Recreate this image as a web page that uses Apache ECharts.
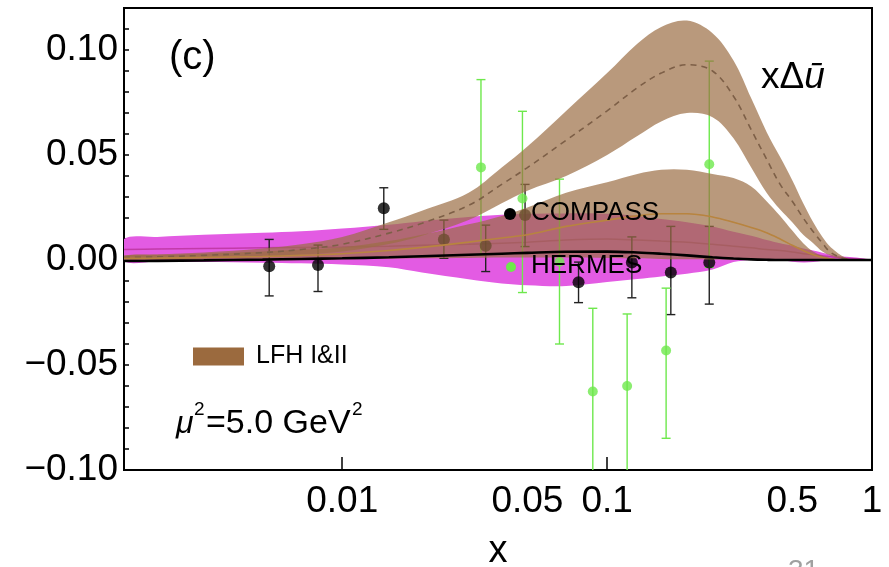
<!DOCTYPE html>
<html><head><meta charset="utf-8">
<script src="https://cdn.jsdelivr.net/npm/echarts@6/dist/echarts.min.js"></script>
<style>html,body{margin:0;padding:0;background:#fff}#c{width:889px;height:567px}</style>
</head><body><div id="c"></div>
<script>
// ---------- data ----------
const bandX   = [0.0015,0.002,0.003,0.005,0.007,0.01,0.015,0.02,0.03,0.04,0.05,0.07,0.1,0.13,0.16,0.2,0.25,0.3,0.35,0.4,0.45,0.5,0.55,0.6,0.65,0.7,0.8,0.9,1.0];
// LFH I band (upper, dashed centre)
const lfh1Up  = [0.0022,0.0027,0.0036,0.0055,0.0075,0.011,0.018,0.0235,0.032,0.044,0.054,0.071,0.089,0.103,0.111,0.114,0.108,0.095,0.077,0.061,0.049,0.038,0.027,0.018,0.011,0.006,0.001,0.0002,0];
const lfh1Mid = [0.0012,0.0015,0.0022,0.0035,0.005,0.0075,0.0128,0.0175,0.026,0.036,0.044,0.057,0.071,0.082,0.089,0.093,0.090,0.078,0.062,0.048,0.036,0.028,0.020,0.0135,0.008,0.0035,0.0004,0,0];
const lfh1Lo  = [0.0003,0.0004,0.0008,0.0015,0.0025,0.004,0.0076,0.0115,0.019,0.027,0.033,0.040,0.050,0.059,0.066,0.070,0.068,0.058,0.044,0.032,0.024,0.018,0.012,0.008,0.004,0.002,0,0,0];
// LFH II band (lower, solid centre)
const lfh2Up  = [0.002,0.0024,0.003,0.004,0.005,0.006,0.009,0.012,0.017,0.021,0.025,0.032,0.037,0.041,0.043,0.043,0.041,0.039,0.035,0.028,0.021,0.014,0.008,0.004,0.002,0.001,0,0,0];
const lfh2Mid = [0.0008,0.0009,0.0012,0.0017,0.0022,0.003,0.0045,0.006,0.0085,0.0105,0.012,0.016,0.019,0.021,0.022,0.022,0.0205,0.018,0.0155,0.013,0.010,0.007,0.0045,0.0025,0.0012,0.0005,0,0,0];
const lfh2Lo  = [-0.0004,-0.0004,-0.0003,-0.0002,0,0.0003,0.0006,0.0008,0.001,0.0012,0.0012,0.0012,0.001,0.0008,0.0005,0.0003,0.0002,0.0001,0,0,0,0,0,0,0,0,0,0,0];
// magenta band
const magUp   = [0.0100,0.0110,0.0120,0.0130,0.0137,0.0150,0.0168,0.0185,0.0205,0.0215,0.0220,0.0222,0.0220,0.0210,0.0195,0.0180,0.0160,0.0135,0.0115,0.0095,0.0080,0.0068,0.0055,0.0045,0.0035,0.0025,0.0015,0.0010,0];
const magMid  = [0.0050,0.0052,0.0055,0.0058,0.0060,0.0062,0.0066,0.0070,0.0075,0.0080,0.0085,0.0095,0.0100,0.0095,0.0090,0.0085,0.0075,0.0065,0.0058,0.0050,0.0045,0.0038,0.0030,0.0025,0.0020,0.0015,0.0008,0.0005,0];
const magLo   = [-0.0005,-0.0007,-0.0010,-0.0013,-0.0016,-0.0022,-0.0035,-0.0060,-0.0092,-0.0112,-0.0120,-0.0124,-0.0105,-0.0090,-0.0078,-0.0065,-0.0045,-0.0010,0.0,0.0003,0.0,-0.0008,-0.0012,-0.0010,-0.0004,0.0,0.0,0.0,0];
// black curve
const blackY  = [-0.0005,-0.0004,-0.0002,0.0002,0.0005,0.0008,0.0013,0.0018,0.0025,0.003,0.0034,0.0039,0.0040,0.0036,0.003,0.0022,0.0013,0.0007,0.0003,0.0001,0,0,0,0,0,0,0,0,0];
// COMPASS points
const compassX  = [0.0053,0.0081,0.01435,0.0242,0.0348,0.049,0.078,0.124,0.174,0.243];
const compassY  = [-0.003,-0.0024,0.0246,0.0098,0.0068,0.0214,-0.0106,-0.0012,-0.006,-0.0012];
const compassLo = [-0.0171,-0.015,0.0146,0.0008,-0.0055,0.0064,-0.0203,-0.018,-0.026,-0.021];
const compassHi = [0.0098,0.0071,0.0344,0.019,0.0166,0.036,-0.001,0.011,0.016,0.016];
// HERMES points
const hermesX  = [0.0334,0.0479,0.0661,0.0883,0.119,0.167,0.243];
const hermesY  = [0.0441,0.0293,-0.0008,-0.0626,-0.060,-0.0431,0.0456];
const hermesLo = [0.0023,-0.0155,-0.040,-0.105,-0.105,-0.0849,-0.0035];
const hermesHi = [0.0859,0.0708,0.0385,-0.023,-0.0257,-0.0134,0.0947];
// axes
const xTickValues = [0.01,0.05,0.1,0.5,1];
const xTickLabels = ['0.01','0.05','0.1','0.5','1'];
const xLongTicks  = [0.01,0.1,1];
const xShortTicks = [0.05,0.5];
const xMin = 0.0015, xMax = 1;
const yMin = -0.10, yMax = 0.12, yStep = 0.01;

// ---------- chart ----------
const L = Math.log10;
const FF = '"Liberation Sans", Arial, Helvetica, sans-serif';
const chart = echarts.init(document.getElementById('c'), null, {renderer:'canvas'});

function band(name, lo, hi, color, opacity, z) {
  return {
    type:'custom', name, z, clip:true, silent:true,
    data:[[L(bandX[0]), hi[0]]],
    renderItem(params, api) {
      const pts = [];
      for (let i=0;i<bandX.length;i++) pts.push(api.coord([L(bandX[i]), hi[i]]));
      for (let i=bandX.length-1;i>=0;i--) pts.push(api.coord([L(bandX[i]), lo[i]]));
      return {type:'polygon', shape:{points:pts, smooth:0.35}, style:{fill:color, opacity:opacity}};
    }
  };
}
function curve(name, ys, style, z) {
  return {type:'line', name, z, data:bandX.map((x,i)=>[L(x), ys[i]]), showSymbol:false,
    smooth:0.35, lineStyle:style, silent:true, clip:true};
}
function errbars(name, xs, lo, hi, color, cap, z) {
  return {
    type:'custom', name, z, clip:true, silent:true,
    data: xs.map((x,i)=>[L(x), lo[i], hi[i]]),
    encode:{x:0, y:[1,2]},
    renderItem(params, api) {
      const x = api.value(0);
      const a = api.coord([x, api.value(2)]), b = api.coord([x, api.value(1)]);
      const st = {stroke:color, lineWidth:1.4};
      return {type:'group', children:[
        {type:'line', shape:{x1:a[0],y1:a[1],x2:b[0],y2:b[1]}, style:st},
        {type:'line', shape:{x1:a[0]-cap,y1:a[1],x2:a[0]+cap,y2:a[1]}, style:st},
        {type:'line', shape:{x1:b[0]-cap,y1:b[1],x2:b[0]+cap,y2:b[1]}, style:st}
      ]};
    }
  };
}

const brown = '#9b6e45';
const option = {
  animation:false,
  grid:{left:124,right:17,top:8,bottom:97,show:true,borderColor:'#000',borderWidth:2,
    backgroundColor:'rgba(0,0,0,0)', containLabel:false, outerBoundsMode:'none'},
  legend:{show:true, left:193, top:344, padding:0, itemWidth:51, itemHeight:18, selectedMode:false,
    data:[{name:'LFH I&II', icon:'rect', itemStyle:{color:'#9b6a3e'}}],
    textStyle:{fontSize:25, color:'#000', fontFamily:FF, padding:[3,0,0,7]}},
  xAxis:[{
    type:'value', min:L(xMin), max:L(xMax), position:'bottom',
    axisLine:{show:true, onZero:false, lineStyle:{color:'#000', width:2}},
    axisTick:{show:true, inside:true, length:13, customValues:xLongTicks.map(L), lineStyle:{color:'#000', width:1.5}},
    axisLabel:{customValues:xTickValues.map(L), fontSize:37, color:'#000', fontFamily:FF, margin:13,
      formatter:(v)=>{let k=0,d=1e9; xTickValues.forEach((t,i)=>{const e=Math.abs(L(t)-v); if(e<d){d=e;k=i;}}); return xTickLabels[k];}},
    splitLine:{show:false},
    name:'x', nameLocation:'middle', nameGap:63, nameTextStyle:{fontSize:38, color:'#000', fontFamily:FF}
  },{
    type:'value', min:L(xMin), max:L(xMax), position:'bottom',
    axisLine:{show:false},
    axisTick:{show:true, inside:true, length:7, customValues:xShortTicks.map(L), lineStyle:{color:'#000', width:1.5}},
    axisLabel:{show:false}, splitLine:{show:false}
  }],
  yAxis:{
    type:'value', min:yMin, max:yMax, interval:yStep,
    axisLine:{show:true, onZero:false, lineStyle:{color:'#000', width:2}},
    axisTick:{show:true, inside:true, length:5, lineStyle:{color:'#000', width:1.5}},
    axisLabel:{fontSize:37, color:'#000', fontFamily:FF, margin:6,
      formatter:(v)=>{const r=Math.round(v*100); if(r%5!==0 || r>10) return ''; const s=(Math.abs(r)/100).toFixed(2); return r<0?'\u2212'+s:s;}},
    splitLine:{show:false}
  },
  series:[
    band('magenta band', magLo, magUp, '#e35be3', 1, 1),
    curve('magenta centre', magMid, {color:'#c23aa8', width:1.5}, 1.5),
    errbars('COMPASS err', compassX, compassLo, compassHi, '#222', 4.5, 2),
    errbars('HERMES err', hermesX, hermesLo, hermesHi, '#6ee84c', 4.5, 2),
    {type:'scatter', name:'COMPASS', z:2.5, symbolSize:12, itemStyle:{color:'#000'}, silent:true,
      data:compassX.map((x,i)=>[L(x), compassY[i]])},
    {type:'scatter', name:'HERMES', z:2.5, symbolSize:10, itemStyle:{color:'#6ee84c'}, silent:true,
      data:hermesX.map((x,i)=>[L(x), hermesY[i]])},
    band('LFH I&II', lfh1Lo, lfh1Up, brown, 0.7, 3),
    band('LFH II', lfh2Lo, lfh2Up, brown, 0.7, 3),
    curve('LFH I centre', lfh1Mid, {color:'#7d5f47', width:1.6, type:[6,5]}, 4),
    curve('LFH II centre', lfh2Mid, {color:'#b8843f', width:1.6}, 4),
    curve('black', blackY, {color:'#000', width:2.6}, 5)
  ],
  graphic:[
    {type:'text', z:100, x:169, y:58, style:{text:'(c)', fontSize:40, fontFamily:FF, fill:'#000', verticalAlign:'middle'}},
    {type:'text', z:100, x:761, y:78, style:{text:'{n|x\u0394}{i|\u016b}', verticalAlign:'middle',
      rich:{n:{fontSize:37, fontFamily:FF, fill:'#000'}, i:{fontSize:37, fontFamily:FF, fontStyle:'italic', fill:'#000'}}}},
    {type:'circle', z:100, shape:{cx:510, cy:214, r:6}, style:{fill:'#000'}},
    {type:'text', z:100, x:531, y:213, style:{text:'COMPASS', fontSize:26, fontFamily:FF, fill:'#000', verticalAlign:'middle'}},
    {type:'circle', z:100, shape:{cx:511, cy:267, r:5}, style:{fill:'#6ee84c'}},
    {type:'text', z:100, x:531, y:266, style:{text:'HERMES', fontSize:26, fontFamily:FF, fill:'#000', verticalAlign:'middle'}},
    {type:'text', z:100, x:176, y:424, style:{text:'\u03bc', fontSize:32, fontStyle:'italic', fontFamily:FF, fill:'#000', verticalAlign:'middle'}},
    {type:'text', z:100, x:194, y:410, style:{text:'2', fontSize:19, fontFamily:FF, fill:'#000', verticalAlign:'middle'}},
    {type:'text', z:100, x:206, y:424, style:{text:'=5.0 GeV', fontSize:34, fontFamily:FF, fill:'#000', verticalAlign:'middle'}},
    {type:'text', z:100, x:352, y:410, style:{text:'2', fontSize:19, fontFamily:FF, fill:'#000', verticalAlign:'middle'}},
    {type:'text', z:100, x:788, y:557, style:{text:'31', fontSize:28, fontFamily:FF, fill:'#a0a0a0', verticalAlign:'top'}}
  ]
};
chart.setOption(option);
</script></body></html>
